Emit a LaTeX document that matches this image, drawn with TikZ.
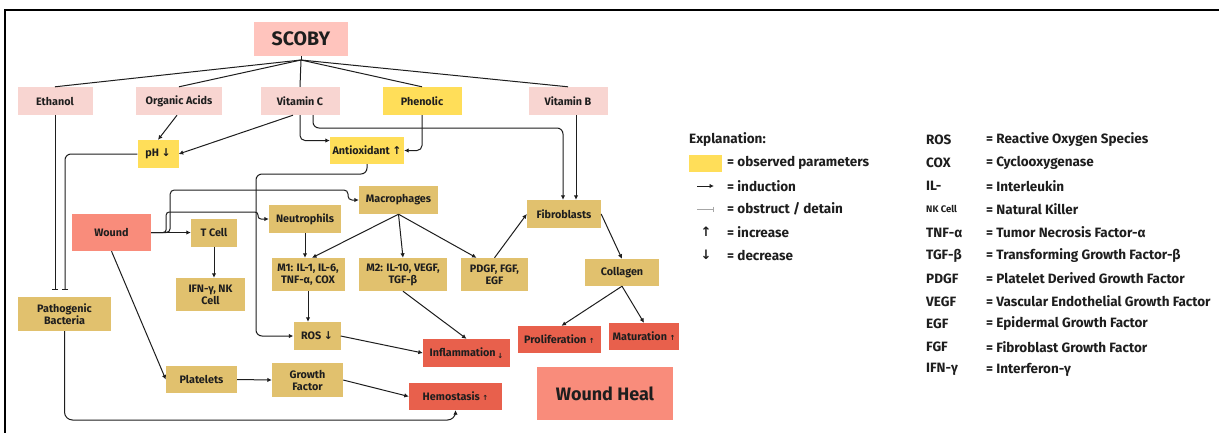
\documentclass[tikz,border=0pt]{standalone}
\usepackage{fontspec}
\setmainfont{Fira Sans}
\newfontfamily\symf{DejaVu Sans}
\usetikzlibrary{arrows.meta}
\definecolor{cTan}{HTML}{E1C16E}
\definecolor{cYel}{HTML}{FFDE59}
\definecolor{cPinkL}{HTML}{F8D5D1}
\definecolor{cPink}{HTML}{FFC4BD}
\definecolor{cRed}{HTML}{E8604C}
\definecolor{cSal}{HTML}{F98C7B}
\definecolor{cTxt}{HTML}{1E1E1E}
\tikzset{
  box/.style={rectangle, inner sep=0pt, align=center, text=cTxt,
    font=\bfseries\fontsize{10.8}{12}\selectfont},
  arr/.style={line width=1pt, draw=cTxt, -{Latex[length=4.5pt,width=4.5pt]}},
  obs/.style={line width=1pt, draw=cTxt, -{Bar[width=6pt]}},
  plain/.style={line width=1pt, draw=cTxt},
  leg/.style={anchor=west, inner sep=0pt, text=cTxt, font=\bfseries\fontsize{13.5}{15}\selectfont},
  legs/.style={anchor=west, inner sep=0pt, text=cTxt, font=\bfseries\fontsize{9.5}{11}\selectfont},
}
\newcommand{\myup}{{\symf\bfseries ↑}}
\newcommand{\mydn}{{\symf\bfseries ↓}}
\newcommand{\mysmup}{{\symf\bfseries\fontsize{7}{8}\selectfont ↑}}
\begin{document}
\begin{tikzpicture}[x=1pt,y=-1pt]
\useasboundingbox (0,0) rectangle (1219,432);
\fill[white] (0,0) rectangle (1219,432);
\draw[line width=2.2pt] (5,445) -- (5,10) -- (1230,10);

% top
\node[box, fill=cPink, minimum width=94pt, minimum height=34pt, font=\bfseries\fontsize{19.5}{21}\selectfont] (scoby) at (301,39) {SCOBY};
\coordinate (sj) at (301,60);

\node[box, fill=cPinkL, minimum width=75pt, minimum height=28pt] (eth) at (55,101) {Ethanol};
\node[box, fill=cPinkL, minimum width=86pt, minimum height=28pt] (oa) at (179,101) {Organic Acids};
\node[box, fill=cPinkL, minimum width=79pt, minimum height=28pt] (vc) at (300,101) {Vitamin C};
\node[box, fill=cYel, minimum width=79pt, minimum height=28pt] (phe) at (422,101) {Phenolic};
\node[box, fill=cPinkL, minimum width=79pt, minimum height=28pt] (vb) at (568,101) {Vitamin B};

\node[box, fill=cYel, minimum width=41pt, minimum height=28pt] (ph) at (158,154) {pH \mydn};
\node[box, fill=cYel, minimum width=74pt, minimum height=27pt] (ao) at (367,150.5) {Antioxidant \myup};

\node[box, fill=cSal, minimum width=79pt, minimum height=37pt] (wound) at (111.5,232.5) {Wound};
\node[box, fill=cTan, minimum width=46pt, minimum height=28pt] (tc) at (214,232.5) {T Cell};
\node[box, fill=cTan, minimum width=69pt, minimum height=33pt] (ifn) at (210.5,294.5) {IFN-γ, NK\\Cell};
\node[box, fill=cTan, minimum width=72pt, minimum height=28pt] (neu) at (305,219) {Neutrophils};
\node[box, fill=cTan, minimum width=79pt, minimum height=28pt] (mac) at (398.5,200) {Macrophages};
\node[box, fill=cTan, minimum width=74pt, minimum height=28pt] (fib) at (564,214) {Fibroblasts};

\node[box, fill=cTan, minimum width=73pt, minimum height=33pt] (m1) at (308,274.5) {M1: IL-1, IL-6,\\TNF-α, COX};
\node[box, fill=cTan, minimum width=88pt, minimum height=33pt] (m2) at (403,274.5) {M2: IL-10, VEGF,\\TGF-β};
\node[box, fill=cTan, minimum width=67pt, minimum height=33pt] (pdgf) at (494.5,274.5) {PDGF, FGF,\\EGF};
\node[box, fill=cTan, minimum width=74pt, minimum height=27pt] (col) at (622,272.5) {Collagen};

\node[box, fill=cTan, minimum width=93pt, minimum height=34pt] (pb) at (64.5,314) {Pathogenic\\Bacteria};
\node[box, fill=cTan, minimum width=47pt, minimum height=28pt] (ros) at (317,336) {ROS \mydn};
\node[box, fill=cRed, minimum width=87pt, minimum height=28pt] (inf) at (466.5,353) {Inflammation\,\raisebox{-2pt}{\symf\bfseries\fontsize{7}{8}\selectfont ↓}};
\node[box, fill=cRed, minimum width=83pt, minimum height=27pt] (pro) at (559.5,339.5) {Proliferation \mysmup};
\node[box, fill=cRed, minimum width=70pt, minimum height=27pt] (mat) at (644,336.5) {Maturation \mysmup};

\node[box, fill=cTan, minimum width=71pt, minimum height=27pt] (pl) at (201.5,379.5) {Platelets};
\node[box, fill=cTan, minimum width=71pt, minimum height=34pt] (gf) at (307.5,380) {Growth\\Factor};
\node[box, fill=cRed, minimum width=93pt, minimum height=27pt] (hem) at (455.5,396.5) {Hemostasis \mysmup};
\node[box, fill=cSal, minimum width=136pt, minimum height=53pt, font=\bfseries\fontsize{18}{20}\selectfont] (wh) at (605,393.5) {Wound Heal};

% SCOBY connectors
\draw[plain] (scoby.south) -- (sj);
\draw[plain] (sj) -- (eth.north);
\draw[plain] (sj) -- (oa.north);
\draw[plain] (sj) -- (vc.north);
\draw[plain] (sj) -- (phe.north);
\draw[plain] (sj) -- (vb.north);

% to pH and antioxidant
\draw[arr] ([xshift=-2pt]oa.south) -- (ph.north);
\draw[arr] ([xshift=-7pt]vc.south) -- (ph.east);
\draw[arr, rounded corners=5pt] (vc.south) |- ([yshift=10pt]ao.west);
\draw[arr, rounded corners=5pt] (phe.south) |- (ao.east);
\coordinate (c1) at (563,128);
\draw[arr, rounded corners=6pt] ([xshift=13pt]vc.south) |- (c1) -- (c1 |- fib.north);
\draw[arr] ([xshift=8pt]vb.south) -- ([xshift=8pt]vb.south |- fib.north);

% obstruct
\coordinate (pbt1) at (55,290);
\coordinate (pbt2) at (65,290);
\draw[obs] (eth.south) -- (pbt1);
\draw[obs, rounded corners=6pt] (ph.west) -| (pbt2);

% pathogenic to hemostasis
\coordinate (lowy) at (0,420);
\draw[arr, rounded corners=8pt] (pb.south) -- (pb.south |- lowy) -| (hem.south);

% wound branches
\draw[arr] (wound.east) -- (tc.west);
\draw[arr, rounded corners=3pt] (wound.east) -- ++(15,0) |- (258,212) |- (neu.west);
\draw[arr, rounded corners=4pt] (wound.east) -- ++(19,0) |- (348,190) |- (mac.west);
\draw[arr] (tc.south) -- (tc.south |- ifn.north);
\draw[arr] (wound.south) -- (pl.west);
\draw[arr] (pl.east) -- (gf.west);
\draw[arr] (gf.east) -- (hem.west);

% antioxidant to ROS
\draw[arr, rounded corners=6pt] (ao.south) |- (256,174) |- (ros.west);

% immune
\draw[arr] (neu.south) -- (neu.south |- m1.north);
\draw[arr] (mac.south) -- ([xshift=4pt]m1.north);
\draw[arr] (mac.south) -- (m2.north);
\draw[arr] (mac.south) -- ([xshift=-18pt]pdgf.north);
\draw[arr] (m1.south) -- (m1.south |- ros.north);
\draw[arr] (ros.east) -- (inf.west);
\draw[arr] (m2.south) -- (inf.north);
\draw[arr] (pdgf.north) -- (fib.west);
\draw[arr] (fib.east) -- (col.north);
\draw[arr] (col.south) -- ([xshift=2pt]pro.north);
\draw[arr] (col.south) -- (mat.north);

% legend
\node[leg] (lex) at (689,140) {Explanation:};
\node[rectangle, fill=cYel, minimum width=33pt, minimum height=17pt, inner sep=0pt] (lsw) at (705,163) {};
\node[leg] (l1) at (727,163) {= observed parameters};
\coordinate (la1) at (697,186); \coordinate (la2) at (714,186);
\draw[arr] (la1) -- (la2);
\node[leg] (l2) at (727,186) {= induction};
\coordinate (lb1) at (697,209); \coordinate (lb2) at (714,209);
\draw[line width=1pt, draw=gray!70, -{Bar[width=5pt]}] (lb1) -- (lb2);
\node[leg] (l3) at (727,209) {= obstruct / detain};
\node[inner sep=0pt, text=cTxt, font=\symf\bfseries\fontsize{13}{14}\selectfont] (lup) at (706,232) {↑};
\node[leg] (l4) at (727,232) {= increase};
\node[inner sep=0pt, text=cTxt, font=\symf\bfseries\fontsize{13}{14}\selectfont] (ldn) at (706,255) {↓};
\node[leg] (l5) at (727,255) {= decrease};

% abbreviations
\node[leg] (a1) at (926,140) {ROS};   \node[leg] (b1) at (986,140) {= Reactive Oxygen Species};
\node[leg] (a2) at (926,163) {COX};   \node[leg] (b2) at (986,163) {= Cyclooxygenase};
\node[leg] (a3) at (926,186) {IL-};   \node[leg] (b3) at (986,186) {= Interleukin};
\node[legs] (a4) at (926,209) {NK Cell}; \node[leg] (b4) at (986,209) {= Natural Killer};
\node[leg] (a5) at (926,232.5) {TNF-α}; \node[leg] (b5) at (986,232.5) {= Tumor Necrosis Factor-α};
\node[leg] (a6) at (926,255.5) {TGF-β}; \node[leg] (b6) at (986,255.5) {= Transforming Growth Factor-β};
\node[leg] (a7) at (926,278.5) {PDGF};  \node[leg] (b7) at (986,278.5) {= Platelet Derived Growth Factor};
\node[leg] (a8) at (926,301.5) {VEGF};  \node[leg] (b8) at (986,301.5) {= Vascular Endothelial Growth Factor};
\node[leg] (a9) at (926,324) {EGF};   \node[leg] (b9) at (986,324) {= Epidermal Growth Factor};
\node[leg] (a10) at (926,347) {FGF};  \node[leg] (b10) at (986,347) {= Fibroblast Growth Factor};
\node[leg] (a11) at (926,369.5) {IFN-γ}; \node[leg] (b11) at (986,369.5) {= Interferon-γ};
\end{tikzpicture}
\end{document}
